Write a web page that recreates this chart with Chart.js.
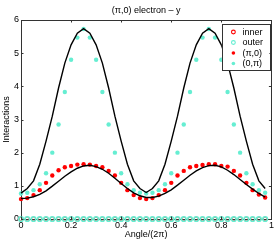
<!DOCTYPE html>
<html>
<head>
<meta charset="utf-8">
<script src="https://cdn.jsdelivr.net/npm/chart.js@4/dist/chart.umd.min.js"></script>
<style>
  html, body { margin: 0; padding: 0; background: #fff; }
</style>
</head>
<body>
<canvas id="myChart" width="277" height="242"></canvas>
<script>
// angle / (2 pi)
const angles = [0, 0.025, 0.05, 0.075, 0.1, 0.125, 0.15, 0.175, 0.2, 0.225,
                0.25, 0.275, 0.3, 0.325, 0.35, 0.375, 0.4, 0.425, 0.45, 0.475,
                0.5, 0.525, 0.55, 0.575, 0.6, 0.625, 0.65, 0.675, 0.7, 0.725,
                0.75, 0.775, 0.8, 0.825, 0.85, 0.875, 0.9, 0.925, 0.95, 0.975];

const inner = [0, 0, 0, 0, 0, 0, 0, 0, 0, 0, 0, 0, 0, 0, 0, 0, 0, 0, 0, 0,
               0, 0, 0, 0, 0, 0, 0, 0, 0, 0, 0, 0, 0, 0, 0, 0, 0, 0, 0, 0];
const outer = [0, 0, 0, 0, 0, 0, 0, 0, 0, 0, 0, 0, 0, 0, 0, 0, 0, 0, 0, 0,
               0, 0, 0, 0, 0, 0, 0, 0, 0, 0, 0, 0, 0, 0, 0, 0, 0, 0, 0, 0];

const piZero = [0.60, 0.63, 0.72, 0.87, 1.09, 1.31, 1.47, 1.56, 1.60, 1.64,
                1.65, 1.64, 1.60, 1.56, 1.45, 1.31, 1.09, 0.87, 0.72, 0.63,
                0.60, 0.63, 0.72, 0.87, 1.09, 1.31, 1.45, 1.56, 1.60, 1.63,
                1.65, 1.65, 1.60, 1.58, 1.45, 1.31, 1.09, 0.87, 0.74, 0.65];

const zeroPi = [0.77, 0.79, 0.87, 1.05, 1.38, 2.00, 2.85, 3.83, 4.80, 5.47,
                5.73, 5.47, 4.80, 3.83, 2.85, 2.00, 1.38, 1.05, 0.87, 0.79,
                0.77, 0.79, 0.87, 1.05, 1.38, 2.00, 2.85, 3.83, 4.80, 5.47,
                5.73, 5.47, 4.80, 3.83, 2.85, 2.00, 1.38, 1.05, 0.87, 0.79];

// black curves (no legend entry)
const upperCurve = [0.78, 0.92, 1.15, 1.65, 2.35, 3.10, 3.95, 4.70, 5.25, 5.60,
                    5.74, 5.60, 5.25, 4.70, 3.95, 3.10, 2.35, 1.65, 1.15, 0.92,
                    0.80, 0.92, 1.15, 1.65, 2.35, 3.10, 3.95, 4.70, 5.25, 5.60,
                    5.74, 5.60, 5.25, 4.70, 3.95, 3.10, 2.35, 1.65, 1.15, 0.92];
const lowerCurve = [0.62, 0.63, 0.67, 0.74, 0.85, 0.99, 1.14, 1.29, 1.42, 1.53,
                    1.60, 1.62, 1.58, 1.50, 1.38, 1.23, 1.07, 0.92, 0.79, 0.70,
                    0.65, 0.65, 0.69, 0.77, 0.88, 1.02, 1.17, 1.32, 1.45, 1.55,
                    1.61, 1.62, 1.57, 1.47, 1.34, 1.19, 1.04, 0.90, 0.77, 0.66];

const xTicks = [0, 0.2, 0.4, 0.6, 0.8, 1];
const yTicks = [0, 1, 2, 3, 4, 5, 6];

const RED = 'rgb(255,0,0)';
const CYAN = 'rgb(102,238,210)';
const FONT = { family: '"Liberation Sans", Arial, sans-serif', size: 9 };

const pts = (ys) => angles.map((a, i) => ({ x: a, y: ys[i] }));

// inward tick marks on all four sides
const innerTicks = {
    id: 'innerTicks',
    afterDraw(chart) {
        const { ctx, chartArea: a, scales: { x, y } } = chart;
        ctx.save();
        ctx.strokeStyle = '#333';
        ctx.lineWidth = 1;
        ctx.beginPath();
        x.ticks.forEach(t => {
            const px = Math.round(x.getPixelForValue(t.value)) + 0.5;
            ctx.moveTo(px, a.bottom); ctx.lineTo(px, a.bottom - 2.5);
            ctx.moveTo(px, a.top); ctx.lineTo(px, a.top + 2.5);
        });
        y.ticks.forEach(t => {
            const py = Math.round(y.getPixelForValue(t.value)) + 0.5;
            ctx.moveTo(a.left, py); ctx.lineTo(a.left + 2.5, py);
            ctx.moveTo(a.right, py); ctx.lineTo(a.right - 2.5, py);
        });
        ctx.stroke();
        ctx.restore();
    }
};

// boxed legend inside the top right of the plot
const boxLegend = {
    id: 'boxLegend',
    afterDraw(chart) {
        const { ctx, chartArea: a } = chart;
        const items = chart.data.datasets.filter(d => d.label);
        const w = 47.5, h = 46;
        const left = a.right - 2 - w, top = a.top + 4;
        ctx.save();
        ctx.fillStyle = '#fff';
        ctx.fillRect(left, top, w, h);
        ctx.strokeStyle = '#333';
        ctx.lineWidth = 1;
        ctx.strokeRect(Math.round(left) + 0.5, Math.round(top) + 0.5, Math.round(w), Math.round(h));
        ctx.font = FONT.size + 'px ' + FONT.family;
        ctx.textBaseline = 'middle';
        ctx.textAlign = 'left';
        items.forEach((d, i) => {
            const cy = top + 8 + i * 10.5;
            const cx = left + 11.5;
            ctx.beginPath();
            ctx.arc(cx, cy, d.pointBorderWidth > 0 ? 1.9 : 1.8, 0, Math.PI * 2);
            if (d.pointBorderWidth > 0) {
                ctx.lineWidth = 1.1;
                ctx.strokeStyle = d.pointBorderColor;
                ctx.stroke();
            } else {
                ctx.fillStyle = d.pointBackgroundColor;
                ctx.fill();
            }
            ctx.fillStyle = '#000';
            ctx.fillText(d.label, left + 20.5, cy + 0.5);
        });
        ctx.restore();
    }
};

const hollow = (label, color, data, order, r, bw) => ({
    label, data: pts(data), showLine: false, order,
    pointRadius: r, pointBorderWidth: bw,
    pointBorderColor: color, pointBackgroundColor: 'rgba(0,0,0,0)',
    borderColor: color, backgroundColor: 'rgba(0,0,0,0)', clip: false
});
const filled = (label, color, data, order) => ({
    label, data: pts(data), showLine: false, order,
    pointRadius: 2.2, pointBorderWidth: 0,
    pointBorderColor: color, pointBackgroundColor: color,
    borderColor: color, backgroundColor: color, clip: false
});
const curve = (data) => ({
    data: pts(data), borderColor: '#000', borderWidth: 1.4, pointRadius: 0,
    tension: 0, fill: false, order: 0, clip: false
});

const ctx = document.getElementById('myChart').getContext('2d');

new Chart(ctx, {
    type: 'line',
    data: {
        datasets: [
            hollow('inner', RED, inner, 4, 2.0, 1.0),
            hollow('outer', CYAN, outer, 3, 2.3, 1.6),
            filled('(π,0)', RED, piZero, 2),
            filled('(0,π)', CYAN, zeroPi, 1),
            curve(upperCurve),
            curve(lowerCurve)
        ]
    },
    options: {
        responsive: false,
        animation: false,
        events: [],
        devicePixelRatio: 1,
        layout: { padding: 0 },
        plugins: {
            legend: { display: false },
            tooltip: { enabled: false },
            title: { display: false }
        },
        scales: {
            x: {
                type: 'linear', position: 'bottom', min: 0, max: 1,
                afterFit(s) { s.height = 23; },
                afterBuildTicks(s) { s.ticks = xTicks.map(v => ({ value: v })); },
                ticks: { font: FONT, color: '#000', padding: 1, maxRotation: 0,
                         callback: v => String(v) },
                grid: { drawOnChartArea: false, drawTicks: false },
                border: { color: '#333' },
                title: { display: true, text: 'Angle/(2π)', font: FONT, color: '#000',
                         padding: { top: 0, bottom: 2 } }
            },
            xTop: {
                type: 'linear', position: 'top', min: 0, max: 1,
                afterFit(s) { s.height = 20; },
                ticks: { display: false },
                grid: { drawOnChartArea: false, drawTicks: false },
                border: { color: '#333' },
                title: { display: true, text: '(π,0) electron – y', font: FONT, color: '#000',
                         padding: { top: 5, bottom: 0 } }
            },
            y: {
                position: 'left', min: 0, max: 6,
                afterFit(s) { s.width = 21; },
                afterBuildTicks(s) { s.ticks = yTicks.map(v => ({ value: v })); },
                ticks: { font: FONT, color: '#000', padding: 2 },
                grid: { drawOnChartArea: false, drawTicks: false },
                border: { color: '#333' },
                title: { display: true, text: 'Interactions', font: FONT, color: '#000',
                         padding: { top: 1.3, bottom: 0 } }
            },
            yRight: {
                position: 'right', min: 0, max: 6,
                afterFit(s) { s.width = 5; },
                ticks: { display: false },
                grid: { drawOnChartArea: false, drawTicks: false },
                border: { color: '#333' }
            }
        }
    },
    plugins: [innerTicks, boxLegend]
});
</script>
</body>
</html>
